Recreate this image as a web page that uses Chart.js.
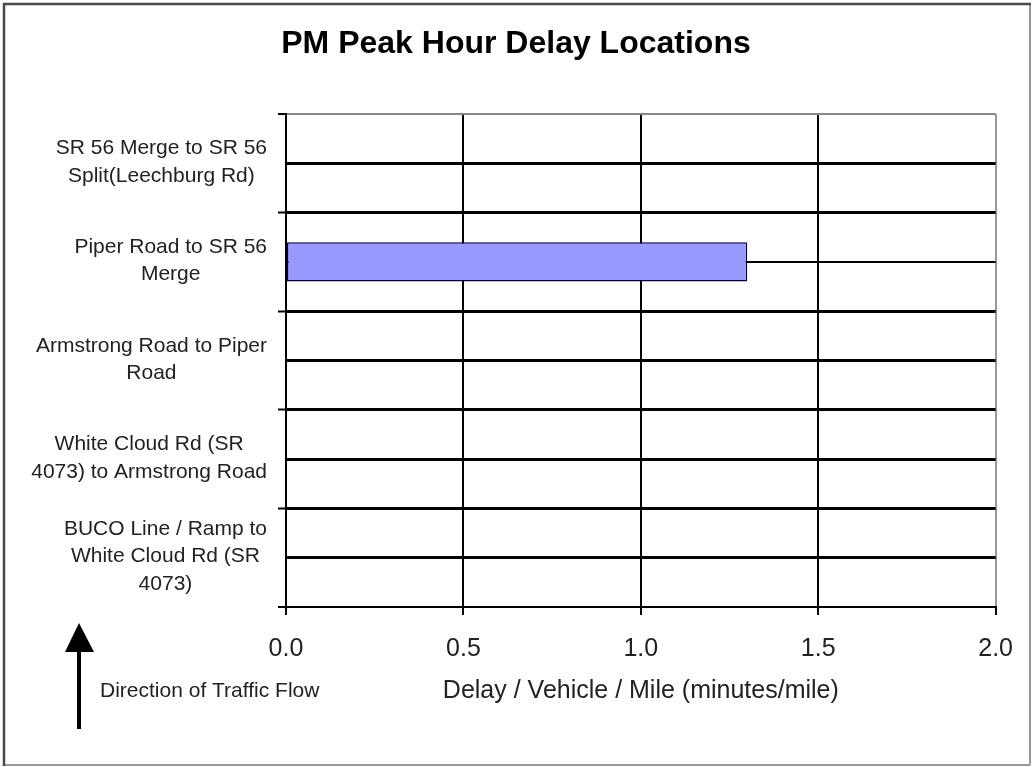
<!DOCTYPE html>
<html><head><meta charset="utf-8">
<script src="https://cdn.jsdelivr.net/npm/chart.js@4.4.1/dist/chart.umd.min.js"></script>
<style>html,body{margin:0;padding:0;background:#fff;overflow:hidden}#wrap{width:1032px;height:767px;position:relative}canvas{display:block}</style>
</head><body><div id="wrap"><canvas id="c" width="1032" height="767"></canvas></div>
<script>
const chartTitle = 'PM Peak Hour Delay Locations';
const categories = [
  ['SR 56 Merge to SR 56', 'Split(Leechburg Rd)'],
  ['Piper Road to SR 56', 'Merge'],
  ['Armstrong Road to Piper', 'Road'],
  ['White Cloud Rd (SR', '4073) to Armstrong Road'],
  ['BUCO Line / Ramp to', 'White Cloud Rd (SR', '4073)']
];
const delayValues = [0, 1.3, 0, 0, 0];
const xMin = 0, xMax = 2.0, xStep = 0.5;
const xAxisTitle = 'Delay / Vehicle / Mile (minutes/mile)';
const noteText = 'Direction of Traffic Flow';
const FONT = "'Liberation Sans', Arial, sans-serif";

const decor = {
  id: 'decor',
  beforeDraw(chart) {
    const ctx = chart.ctx;
    ctx.save();
    ctx.fillStyle = '#fff';
    ctx.fillRect(0, 0, chart.width, chart.height);
    ctx.lineWidth = 2;
    ctx.strokeStyle = '#999';
    ctx.beginPath(); ctx.moveTo(4, 765); ctx.lineTo(1030, 765); ctx.moveTo(1030, 4); ctx.lineTo(1030, 765); ctx.stroke();
    ctx.strokeStyle = '#4a4a4a'; ctx.lineWidth = 2.5;
    ctx.beginPath(); ctx.moveTo(4, 766); ctx.lineTo(4, 4); ctx.lineTo(1031, 4); ctx.stroke();
    ctx.restore();
  },
  afterDraw(chart) {
    const ctx = chart.ctx;
    const y = chart.scales.y;
    ctx.save();
    ctx.font = '21px ' + FONT;
    ctx.fillStyle = '#222';
    ctx.textAlign = 'center';
    ctx.textBaseline = 'middle';
    const right = y.right - 19;
    const lh = 27.5;
    categories.forEach((lines, i) => {
      const cy = y.getPixelForValue(i);
      const w = Math.max(...lines.map(l => ctx.measureText(l).width));
      const cx = right - w / 2;
      const y0 = cy - (lines.length - 1) * lh / 2 - 1;
      lines.forEach((l, k) => ctx.fillText(l, cx, y0 + k * lh));
    });
    // direction arrow
    ctx.fillStyle = '#000';
    ctx.fillRect(77, 650, 4, 79);
    ctx.beginPath(); ctx.moveTo(79, 623); ctx.lineTo(94, 652); ctx.lineTo(65, 652); ctx.closePath(); ctx.fill();
    ctx.fillStyle = '#222';
    ctx.textAlign = 'left';
    ctx.textBaseline = 'alphabetic';
    ctx.font = '21px ' + FONT;
    ctx.fillText(noteText, 100, 697);
    ctx.restore();
  }
};

new Chart(document.getElementById('c'), {
  type: 'bar',
  data: {
    labels: categories,
    datasets: [{
      data: delayValues,
      backgroundColor: '#9999FF',
      borderColor: '#000040',
      borderWidth: 1.5,
      borderSkipped: false,
      barPercentage: 0.4,
      categoryPercentage: 1,
      xAxisID: 'x',
      yAxisID: 'y'
    }]
  },
  options: {
    indexAxis: 'y',
    responsive: false,
    animation: false,
    devicePixelRatio: 1,
    layout: { padding: { left: 36, right: 36, top: 0, bottom: 0 } },
    plugins: {
      legend: { display: false },
      tooltip: { enabled: false },
      title: {
        display: true,
        text: chartTitle,
        color: '#000',
        font: { family: FONT, size: 32, weight: 'bold' },
        padding: { top: 25, bottom: 50.6 }
      }
    },
    scales: {
      x: {
        type: 'linear',
        position: 'bottom',
        min: xMin, max: xMax,
        ticks: {
          stepSize: xStep,
          callback: v => Number(v).toFixed(1),
          color: '#222',
          font: { family: FONT, size: 25 },
          padding: 19
        },
        grid: {
          color: c => (c.tick && c.tick.value === xMax) ? '#999' : '#000',
          lineWidth: 2,
          tickLength: 8,
          tickColor: '#000',
          tickWidth: 2
        },
        border: { display: true, color: '#000', width: 2 },
        title: {
          display: true,
          text: xAxisTitle,
          color: '#222',
          font: { family: FONT, size: 25 },
          padding: { top: 0, bottom: 61 }
        },
        afterFit: s => { s.height = 160; }
      },
      y: {
        type: 'category',
        position: 'left',
        offset: true,
        ticks: { display: false },
        grid: {
          offset: true,
          color: c => c.index === 0 ? '#888' : '#000',
          lineWidth: c => c.index === 0 ? 2 : (c.index === undefined ? 2 : 3),
          tickLength: 8,
          tickColor: '#000',
          tickWidth: 2
        },
        border: { display: true, color: '#000', width: 2 },
        afterFit: s => { s.width = 250; }
      },
      y2: {
        type: 'category',
        position: 'left',
        offset: true,
        ticks: { display: false },
        grid: {
          offset: false,
          color: '#000',
          lineWidth: c => c.index === 1 ? 2 : 3,
          drawTicks: false
        },
        border: { display: false },
        afterFit: s => { s.width = 0; }
      }
    }
  },
  plugins: [decor]
});
</script>
</body></html>
